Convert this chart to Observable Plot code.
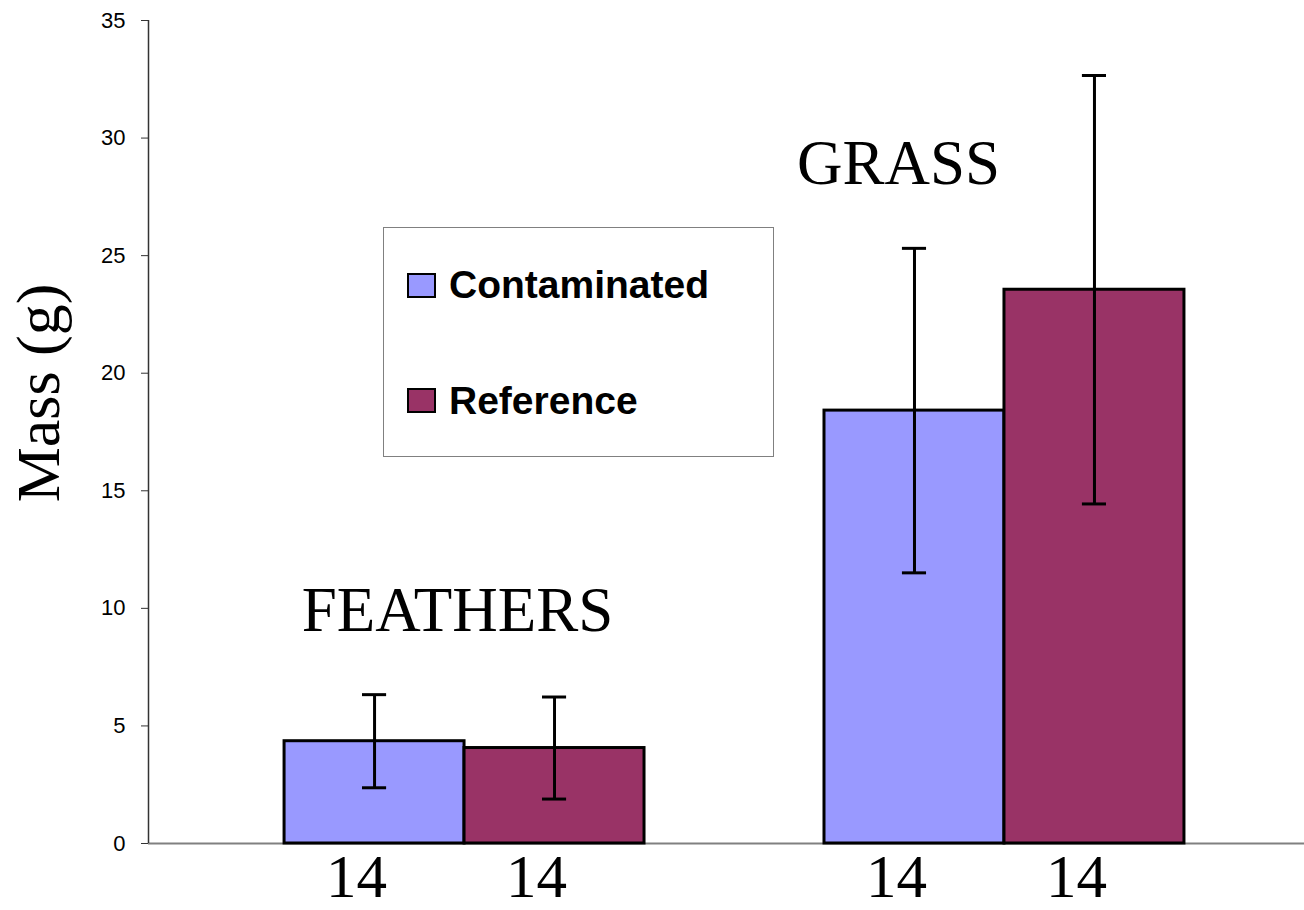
<!DOCTYPE html>
<html>
<head>
<meta charset="utf-8">
<script src="https://cdn.jsdelivr.net/npm/d3@7"></script>
<script src="https://cdn.jsdelivr.net/npm/@observablehq/plot@0.6"></script>
<style>
  body { margin: 0; background: #fff; }
  #chart { position: relative; width: 1304px; height: 910px; }
  #legend {
    position: absolute; left: 383px; top: 227px; width: 389px; height: 228px;
    border: 1px solid #808080; background: #fff;
    font-family: "Liberation Sans", Arial, sans-serif; font-weight: bold; font-size: 39px; color: #000;
  }
  .sw { position: absolute; left: 23px; width: 29px; height: 25px; box-sizing: border-box; border: 2.5px solid #000; }
  .lab { position: absolute; left: 65px; line-height: 39px; white-space: nowrap; }
</style>
</head>
<body>
<div id="chart"></div>
<script>
// ---- data ----
const groups = ["FEATHERS", "GRASS"];
const series = ["Contaminated", "Reference"];
const seriesColors = ["#9999FF", "#993366"];
const contaminatedMean = [4.35, 18.41];
const referenceMean = [4.06, 23.55];
const contaminatedErr = [1.98, 6.90];
const referenceErr = [2.17, 9.11];
const contaminatedN = [14, 14];
const referenceN = [14, 14];
const yTicks = [0, 5, 10, 15, 20, 25, 30, 35];
const yLabel = "Mass (g)";

// ---- build table ----
const means = [contaminatedMean, referenceMean];
const errs = [contaminatedErr, referenceErr];
const ns = [contaminatedN, referenceN];
const rows = [];
groups.forEach((g, gi) => {
  series.forEach((s, si) => {
    rows.push({group: g, series: s, mean: means[si][gi], err: errs[si][gi], n: ns[si][gi], slot: gi * 3 + si});
  });
});

const xDomain = [-0.756, 5.667];
const capHalf = 0.067;
const serif = "'Liberation Serif', 'Times New Roman', serif";

const chart = Plot.plot({
  width: 1304,
  height: 910,
  marginLeft: 148,
  marginRight: 0,
  marginTop: 20,
  marginBottom: 67,
  style: {fontFamily: "'Liberation Sans', Arial, sans-serif", color: "#000", background: "#fff", overflow: "visible"},
  x: {domain: xDomain, axis: null},
  y: {domain: [0, 35], axis: null},
  color: {domain: series, range: seriesColors},
  marks: [
    Plot.ruleY([0], {stroke: "#808080", strokeWidth: 2}),
    Plot.ruleX([xDomain[0]], {stroke: "#333", strokeWidth: 1.5}),
    Plot.axisY({ticks: yTicks, tickSize: 7, tickPadding: 16, fontSize: 22, stroke: "#333", label: null}),
    Plot.rect(rows, {x1: d => d.slot, x2: d => d.slot + 1, y1: 0, y2: "mean", fill: "series", stroke: "#000", strokeWidth: 3}),
    Plot.ruleX(rows, {x: d => d.slot + 0.5, y1: d => d.mean - d.err, y2: d => d.mean + d.err, stroke: "#000", strokeWidth: 3}),
    Plot.ruleY(rows, {y: d => d.mean + d.err, x1: d => d.slot + 0.5 - capHalf, x2: d => d.slot + 0.5 + capHalf, stroke: "#000", strokeWidth: 3}),
    Plot.ruleY(rows, {y: d => d.mean - d.err, x1: d => d.slot + 0.5 - capHalf, x2: d => d.slot + 0.5 + capHalf, stroke: "#000", strokeWidth: 3}),
    Plot.text(rows, {x: d => d.slot + 0.5, y: 0, text: d => String(d.n), lineAnchor: "bottom", dy: 53, dx: -18, fontSize: 61, fontFamily: serif, fill: "#000"}),
    Plot.text(rows.filter(d => d.series === series[0] && d.group === groups[0]), {x: d => d.slot + 0.5, y: d => d.mean + d.err, text: "group", lineAnchor: "bottom", dy: -64, dx: 83, fontSize: 63, fontFamily: serif, fill: "#000"}),
    Plot.text(rows.filter(d => d.series === series[0] && d.group === groups[1]), {x: d => d.slot + 0.5, y: d => d.mean + d.err, text: "group", lineAnchor: "bottom", dy: -64, dx: -16, fontSize: 63, fontFamily: serif, fill: "#000"}),
    Plot.text([yLabel], {frameAnchor: "left", text: d => d, rotate: -90, textAnchor: "middle", dx: -90, dy: -39, lineAnchor: "bottom", fontSize: 62, fontFamily: serif, fill: "#000"})
  ]
});

const container = document.getElementById("chart");
container.appendChild(chart);

const legend = document.createElement("div");
legend.id = "legend";
series.forEach((s, i) => {
  const sw = document.createElement("div");
  sw.className = "sw";
  sw.style.top = (45 + i * 115) + "px";
  sw.style.background = seriesColors[i];
  const lab = document.createElement("div");
  lab.className = "lab";
  lab.style.top = (37 + i * 116) + "px";
  lab.textContent = s;
  legend.appendChild(sw);
  legend.appendChild(lab);
});
container.appendChild(legend);
</script>
</body>
</html>
